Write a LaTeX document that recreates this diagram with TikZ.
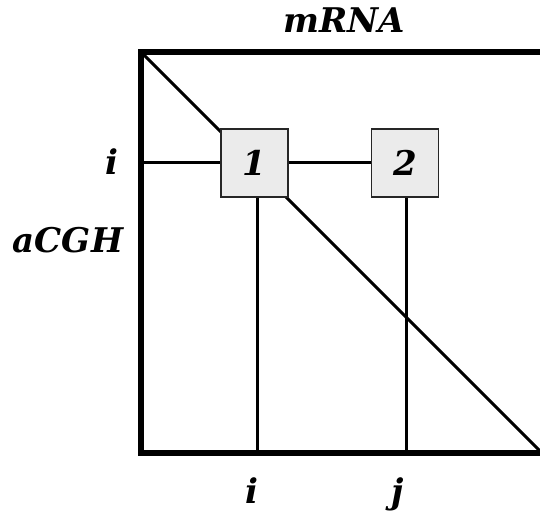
\documentclass[tikz,border=0pt]{standalone}
\usepackage{fontspec}
\setmainfont{DejaVu Serif}
\begin{document}
\begin{tikzpicture}[x=1pt,y=-1pt,
  frame/.style={line width=6pt},
  link/.style={line width=3pt},
  cell/.style={draw=black!85, line width=1.4pt, fill=black!8, minimum width=67pt, minimum height=68pt, inner sep=0pt, font=\fontsize{34}{34}\selectfont\bfseries\itshape},
  lbl/.style={inner sep=0pt, font=\fontsize{34}{34}\selectfont\bfseries\itshape}]
\useasboundingbox (0,0) rectangle (540,513);
\begin{scope}
\clip (0,0) rectangle (540,513);
% matrix frame corners
\coordinate (tl) at (141,52);
\coordinate (tr) at (548,52);
\coordinate (bl) at (141,453);
\coordinate (br) at (548,453);
\coordinate (dg) at (542,453);
% diagonal
\draw[link] (tl) -- (dg);
% column feet on the bottom edge
\coordinate (fi) at (257,453);
\coordinate (fj) at (406,453);
\node[cell] (c1) at (254.5,163) {1};
\node[cell] (c2) at (405,163) {2};
\draw[link] (c1.west -| tl) -- (c1.west);
\draw[link] (c1.east) -- (c2.west);
\draw[link] (c1.south -| fi) -- (fi);
\draw[link] (c2.south -| fj) -- (fj);
\draw[frame] (tr) -- (tl) -- (bl) -- (br);
\end{scope}
\node[lbl, anchor=base] (mrna) at (344,33) {mRNA};
\node[lbl, anchor=base] (li) at (112,175) {i};
\node[lbl, anchor=base] (acgh) at (68,252) {aCGH};
\node[lbl, anchor=base] (bi) at (252,503) {i};
\node[lbl, anchor=base] (bj) at (398,503) {j};
\end{tikzpicture}
\end{document}
